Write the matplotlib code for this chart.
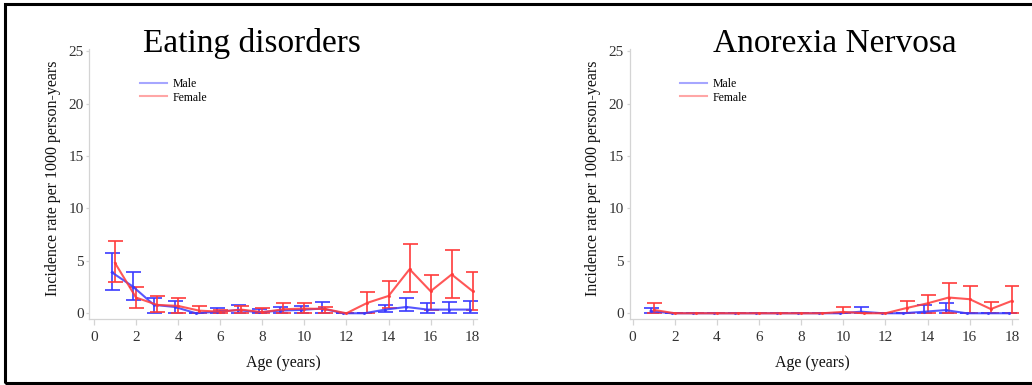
import matplotlib
matplotlib.use("Agg")
import matplotlib.pyplot as plt
from matplotlib.patches import Rectangle
from matplotlib.lines import Line2D
import numpy as np

plt.rcParams['font.family'] = ['Liberation Serif', 'DejaVu Serif']

ages = list(range(1, 19))

# Eating disorders: incidence per 1000 person-years (estimate, lower, upper)
ed_male = [3.9, 2.55, 0.8, 0.6, 0.0, 0.15, 0.3, 0.1, 0.25, 0.32, 0.45, 0.0, 0.0, 0.35, 0.6, 0.35, 0.35, 0.35]
ed_male_lo = [2.25, 1.27, 0.06, 0.02, 0.0, 0.0, 0.0, 0.0, 0.0, 0.0, 0.05, 0.0, 0.0, 0.1, 0.2, 0.05, 0.05, 0.05]
ed_male_hi = [5.73, 3.9, 1.43, 1.2, 0.0, 0.48, 0.76, 0.4, 0.57, 0.7, 1.08, 0.0, 0.0, 0.8, 1.43, 1.0, 1.1, 1.2]
ed_female = [4.8, 1.5, 0.8, 0.7, 0.25, 0.15, 0.35, 0.1, 0.38, 0.45, 0.4, 0.0, 1.0, 1.65, 4.2, 2.1, 3.7, 2.1]
ed_female_lo = [2.96, 0.48, 0.1, 0.05, 0.0, 0.0, 0.0, 0.0, 0.0, 0.05, 0.0, 0.0, 0.06, 0.48, 2.07, 0.32, 1.43, 0.32]
ed_female_hi = [6.85, 2.55, 1.6, 1.5, 0.7, 0.35, 0.7, 0.48, 0.95, 0.95, 0.6, 0.0, 2.07, 3.03, 6.6, 3.66, 6.05, 3.9]

# Anorexia nervosa
an_male = [0.2, 0, 0, 0, 0, 0, 0, 0, 0, 0, 0.15, 0, 0, 0.15, 0.3, 0, 0, 0]
an_male_lo = [0.0, 0, 0, 0, 0, 0, 0, 0, 0, 0, 0.0, 0, 0, 0.0, 0.05, 0, 0, 0]
an_male_hi = [0.54, 0, 0, 0, 0, 0, 0, 0, 0, 0, 0.6, 0, 0, 0.8, 0.96, 0, 0, 0]
an_female = [0.32, 0, 0, 0, 0, 0, 0, 0, 0, 0.13, 0, 0, 0.5, 0.95, 1.5, 1.34, 0.4, 1.18]
an_female_lo = [0.0, 0, 0, 0, 0, 0, 0, 0, 0, 0.0, 0, 0, 0.0, 0.0, 0.0, 0.0, 0.0, 0.0]
an_female_hi = [0.96, 0, 0, 0, 0, 0, 0, 0, 0, 0.6, 0, 0, 1.2, 1.75, 2.85, 2.64, 1.1, 2.64]

titles = ["Eating disorders", "Anorexia Nervosa"]
series_labels = ["Male", "Female"]

BLUE = "#3a3aff"
RED = "#ff3a3a"
AXIS_GRAY = "#d4d4d4"
TEXT_GRAY = "#333333"

W, H = 1032, 385
fig = plt.figure(figsize=(W / 100, H / 100), dpi=100)


def px_axes(x0, x1, ytop, ybot):
    return fig.add_axes([x0 / W, (H - ybot) / H, (x1 - x0) / W, (ybot - ytop) / H])


panels = [
    (px_axes(89.3, 476.7, 49, 318.5), (-0.22, 18.19), 0.5, ed_male, ed_male_lo, ed_male_hi,
     ed_female, ed_female_lo, ed_female_hi),
    (px_axes(629.5, 1018, 49, 318.5), (-0.15, 18.29), 0.47, an_male, an_male_lo, an_male_hi,
     an_female, an_female_lo, an_female_hi),
]

x = np.array(ages, dtype=float)
for i, (ax, xlim, xlab_pos, m, mlo, mhi, f, flo, fhi) in enumerate(panels):
    m = np.array(m); mlo = np.array(mlo); mhi = np.array(mhi)
    f = np.array(f); flo = np.array(flo); fhi = np.array(fhi)
    xm = x - 0.15
    ax.errorbar(xm, m, yerr=[m - mlo, mhi - m], color=BLUE, alpha=0.85, lw=1.5,
                elinewidth=1.4, capsize=5.4, capthick=1.4, marker='o', ms=1.2)
    ax.errorbar(x, f, yerr=[f - flo, fhi - f], color=RED, alpha=0.85, lw=1.5,
                elinewidth=1.4, capsize=5.4, capthick=1.4, marker='o', ms=1.2)
    ax.set_xlim(*xlim)
    ax.set_ylim(-0.5, 25.2)
    ax.set_xticks(range(0, 19, 2))
    ax.set_yticks(range(0, 26, 5))
    for s in ("top", "right"):
        ax.spines[s].set_visible(False)
    for s in ("left", "bottom"):
        ax.spines[s].set_color(AXIS_GRAY)
        ax.spines[s].set_linewidth(0.9)
    ax.tick_params(axis='x', colors=AXIS_GRAY, labelcolor=TEXT_GRAY, length=4,
                   width=0.9, labelsize=11, pad=5)
    ax.tick_params(axis='y', colors=AXIS_GRAY, labelcolor=TEXT_GRAY, length=2,
                   width=0.9, labelsize=11, pad=2)
    ax.set_ylabel("Incidence rate per 1000 person-years", fontsize=11.5,
                  color="#111111", labelpad=7)
    ax.yaxis.set_label_coords(-0.074, 0.52)
    ax.set_xlabel("Age (years)", fontsize=11.5, color="#111111", labelpad=8)
    ax.xaxis.set_label_coords(xlab_pos, -0.135)

    handles = [Line2D([], [], color=BLUE, alpha=0.45, lw=1.5),
               Line2D([], [], color=RED, alpha=0.45, lw=1.5)]
    ax.legend(handles, series_labels, loc='upper left', bbox_to_anchor=(0.13, 0.893),
              frameon=False, fontsize=8.5, handlelength=2.3, handletextpad=0.5,
              labelspacing=0.15, borderpad=0, borderaxespad=0)

fig.text(252 / W, (H - 52) / H, titles[0], fontsize=24, ha='center', va='baseline', color='black')
fig.text(835 / W, (H - 52) / H, titles[1], fontsize=24, ha='center', va='baseline', color='black')

# outer frame
fig.add_artist(Rectangle((4.5 / W, 2.5 / H), 1.2, (H - 6) / H, transform=fig.transFigure,
                         fill=False, ec='black', lw=2.2, clip_on=False))

fig.savefig("out.png", dpi=100)
